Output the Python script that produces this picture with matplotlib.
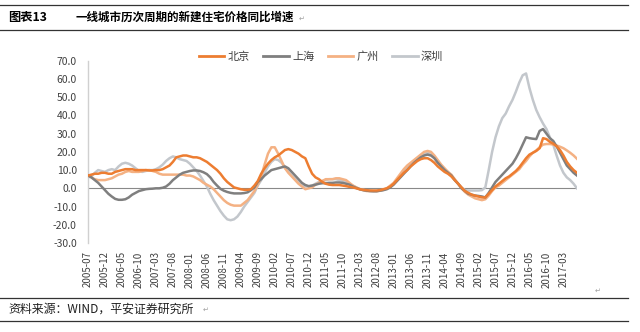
import matplotlib
matplotlib.use('Agg')
import matplotlib.pyplot as plt
from matplotlib.lines import Line2D

plt.rcParams['font.family'] = ['Noto Sans CJK SC', 'DejaVu Sans']

# monthly YoY growth of new home prices, 2005-07 .. 2017-07
months = ['%d-%02d' % (2005 + (6 + i) // 12, (6 + i) % 12 + 1) for i in range(145)]

beijing = [
    7.0, 7.5, 8.0, 8.0, 8.5, 8.5, 8.0, 8.0, 9.0, 9.5,
    10.0, 10.5, 10.5, 10.5, 10.0, 10.0, 10.0, 10.0, 9.8, 9.8,
    10.0, 10.0, 10.5, 11.5, 12.5, 14.5, 17.0, 17.5, 18.0, 18.0,
    17.5, 17.0, 17.0, 16.5, 15.5, 14.5, 13.0, 11.5, 10.0, 8.0,
    5.5, 3.5, 2.0, 0.5, 0.0, -0.5, -0.8, -0.8, -0.5, 1.5,
    4.0, 8.0, 11.0, 13.5, 15.5, 17.0, 18.0, 19.5, 21.0, 21.5,
    21.0, 20.0, 19.0, 17.5, 16.5, 12.0, 8.0, 6.0, 5.0, 3.5,
    2.5, 2.0, 1.8, 1.8, 1.8, 1.5, 1.2, 0.8, 0.5, 0.0,
    -0.5, -0.8, -1.0, -1.2, -1.2, -1.2, -1.0, -0.5, 0.0, 1.0,
    2.5, 4.5, 6.5, 8.5, 10.0, 12.0, 13.5, 15.0, 16.0, 16.5,
    16.5, 15.5, 14.0, 12.0, 10.5, 9.0, 8.0, 6.5, 4.5, 2.5,
    0.5, -1.5, -2.5, -3.5, -4.0, -4.5, -5.0, -5.0, -3.0, -1.0,
    1.0, 2.5, 4.0, 5.5, 6.5, 8.0, 9.5, 11.5, 14.0, 16.5,
    18.5, 19.5, 20.5, 22.0, 27.5, 27.0, 25.5, 24.5, 23.0, 21.0,
    18.0, 14.5, 12.0, 10.0, 8.5,
]

shanghai = [
    7.0, 6.0, 4.5, 3.0, 1.0, -1.0, -3.0, -4.5, -5.8, -6.3,
    -6.3, -6.0, -5.0, -3.5, -2.5, -1.5, -1.0, -0.5, -0.3, -0.2,
    0.0, 0.0, 0.3, 1.0, 2.5, 4.5, 6.0, 7.5, 8.5, 9.0,
    9.5, 9.8, 9.8, 9.5, 8.8, 7.8, 6.0, 3.5, 1.5, -0.3,
    -1.3, -2.0, -2.5, -2.8, -2.8, -2.8, -2.6, -2.2, -1.0, 0.5,
    3.5, 5.0, 7.0, 8.5, 10.0, 10.5, 11.0, 11.5, 12.0, 11.0,
    9.0, 7.0, 5.0, 3.0, 1.8, 1.2, 1.5, 2.0, 2.5, 2.8,
    2.8, 3.0, 3.0, 3.2, 3.2, 3.0, 2.5, 2.0, 1.0, 0.2,
    -0.5, -1.0, -1.3, -1.5, -1.6, -1.6, -1.3, -1.0, -0.5, 0.5,
    2.0, 4.0, 6.0, 8.0, 10.0, 12.0, 14.0, 15.5, 17.0, 18.0,
    18.5, 18.0, 16.5, 14.0, 12.0, 10.0, 8.5, 7.0, 4.5, 2.5,
    0.0, -1.5, -3.0, -3.5, -4.0, -4.2, -4.5, -5.0, -2.5, 0.5,
    3.5, 5.5, 7.5, 9.5, 11.5, 13.5, 16.5, 20.0, 24.0, 28.0,
    27.5, 27.2, 27.0, 31.5, 32.5, 30.0, 27.5, 26.0, 23.0, 19.5,
    16.0, 12.5, 10.5, 8.5, 7.0,
]

guangzhou = [
    7.0, 6.0, 5.0, 4.5, 4.5, 4.5, 5.0, 5.5, 6.5, 7.5,
    8.0, 9.0, 9.5, 9.0, 9.0, 9.0, 9.5, 10.0, 10.0, 9.5,
    9.0, 8.0, 7.5, 7.5, 7.5, 7.5, 7.5, 7.5, 7.5, 7.0,
    7.0, 6.5, 5.5, 4.5, 3.0, 2.0, 1.0, -0.5, -2.5, -4.5,
    -6.5, -8.0, -9.0, -9.5, -9.5, -9.5, -8.0, -6.5, -4.0, -1.5,
    2.0, 6.5, 13.0, 19.0, 22.5, 22.5, 19.0, 15.0, 11.0, 8.5,
    6.5, 4.5, 2.5, 1.0, -0.5, 0.0, 0.5, 2.0, 3.0, 4.0,
    5.0, 5.0, 5.0, 5.5, 5.5, 5.0, 4.5, 3.0, 1.5, 0.5,
    -0.5, -1.0, -1.5, -1.5, -1.6, -1.6, -1.3, -0.8, 0.0, 1.5,
    3.0, 5.5, 8.0, 10.5, 12.5, 14.0, 15.5, 17.0, 18.5, 20.0,
    20.5, 20.0, 18.0, 15.5, 13.0, 11.0, 9.0, 7.5, 5.0, 2.5,
    0.0, -2.0, -3.5, -4.5, -5.5, -6.0, -6.5, -6.0, -4.0, -1.5,
    0.5, 1.5, 3.0, 4.5, 6.0, 7.5, 9.0, 10.5, 13.0, 15.0,
    17.5, 19.5, 20.8, 22.5, 24.0, 24.3, 24.3, 24.0, 23.5, 22.8,
    22.0, 20.8, 19.5, 18.0, 16.2,
]

shenzhen = [
    6.0, 6.5, 8.5, 10.0, 9.5, 9.0, 10.0, 10.5, 10.0, 12.0,
    13.5, 14.0, 13.5, 12.5, 11.0, 9.5, 9.0, 9.5, 10.0, 10.0,
    10.5, 11.5, 13.0, 15.0, 16.5, 17.5, 17.0, 16.0, 15.5, 15.0,
    13.5, 11.5, 9.5, 7.0, 4.0, 1.0, -3.0, -6.5, -9.5, -12.5,
    -15.0, -17.0, -17.5, -17.0, -15.5, -13.0, -10.0, -7.5, -5.0, -2.5,
    1.5, 4.5, 8.5, 12.0, 14.5, 16.0, 15.5, 14.0, 11.5, 9.0,
    7.0, 5.0, 3.0, 1.5, 1.0, 1.0, 1.5, 2.5, 3.5, 4.0,
    4.5, 5.0, 5.0, 5.0, 4.5, 4.2, 3.5, 2.5, 1.5, 0.5,
    -0.3, -0.8, -1.2, -1.5, -1.5, -1.5, -1.2, -0.8, 0.0, 1.0,
    2.5, 4.5, 7.0, 9.5, 11.5, 13.0, 15.0, 16.5, 18.0, 19.0,
    19.5, 19.0, 17.0, 14.5, 12.5, 10.5, 9.0, 7.0, 4.5, 2.5,
    0.5, -1.0, -1.2, -1.2, -1.2, -1.2, -1.0, 0.5, 10.0, 20.0,
    28.0, 34.0, 38.5, 41.0, 45.0, 48.5, 53.0, 58.0, 62.0, 63.0,
    55.0, 48.5, 43.0, 39.0, 35.5, 32.5, 28.0, 24.0, 18.0, 12.5,
    8.5, 6.0, 4.5, 2.5, 0.0,
]

names = ['北京', '上海', '广州', '深圳']
colors = ['#ED7D31', '#7F7F7F', '#F4B183', '#C3C7CC']
series = [beijing, shanghai, guangzhou, shenzhen]

fig = plt.figure(figsize=(6.4, 3.32), dpi=100)
ax = fig.add_axes([88 / 640, 1 - 243 / 332, 489 / 640, 182.3 / 332])

x = list(range(len(months)))
ax.axhline(0, color='#898989', lw=0.8, zorder=1)
# draw light ones first so the darker lines sit on top
for i in [3, 2, 1, 0]:
    ax.plot(x, series[i], color=colors[i], lw=1.8, zorder=2 + (3 - i),
            solid_joinstyle='round')

ax.set_xlim(0, len(months) - 1)
ax.set_ylim(-30, 70)
ax.set_yticks(range(-30, 71, 10))
ax.set_yticklabels(['%.1f' % v for v in range(-30, 71, 10)])
ax.set_xticks(x[::5])
ax.set_xticklabels(months[::5], rotation=90)
ax.tick_params(axis='both', length=0, labelsize=7, colors='#404040')
ax.tick_params(axis='y', pad=8, labelsize=7.5)
ax.tick_params(axis='x', pad=6)
for s in ['top', 'right', 'bottom']:
    ax.spines[s].set_visible(False)
ax.spines['left'].set_color('#D0D0D0')
ax.spines['left'].set_linewidth(1.0)

handles = [Line2D([], [], color=c, lw=2) for c in colors]
fig.legend(handles, names, loc='center', bbox_to_anchor=(321 / 640, 1 - 57 / 332),
           ncol=4, frameon=False, fontsize=8, handlelength=2.3, handletextpad=0.3,
           columnspacing=1.2, labelcolor='#404040')

# header and source rules
for yy in [5, 30, 298, 321]:
    fig.add_artist(Line2D([0, 628 / 640], [1 - yy / 332] * 2, color='#333333', lw=0.9))

fig.text(8 / 640, 1 - 17.5 / 332, '图表13', fontsize=8.8, fontweight='bold', va='center')
fig.text(76 / 640, 1 - 17.5 / 332, '一线城市历次周期的新建住宅价格同比增速', fontsize=8.3,
         fontweight='bold', va='center')
fig.text(299 / 640, 1 - 19 / 332, '↵', fontsize=5, color='#A0A0A0', va='center')
fig.text(8 / 640, 1 - 309.5 / 332, '资料来源：WIND，平安证券研究所', fontsize=8.6,
         va='center', color='#202020')
fig.text(203 / 640, 1 - 310 / 332, '↵', fontsize=5, color='#A0A0A0', va='center')
fig.text(595 / 640, 1 - 291 / 332, '↵', fontsize=5, color='#A0A0A0', va='center')

fig.savefig('out.png', dpi=100)
